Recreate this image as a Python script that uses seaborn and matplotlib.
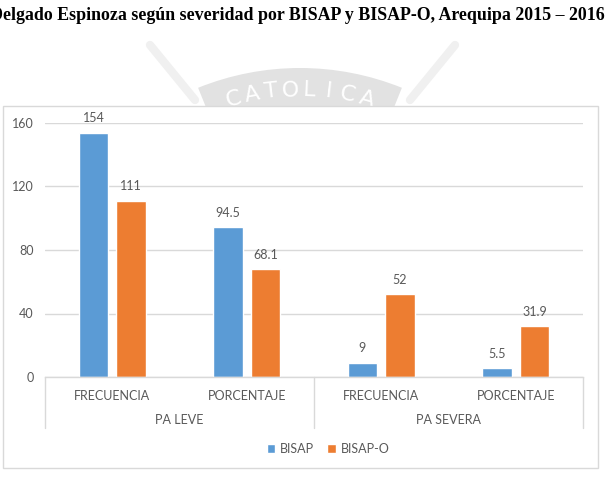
import numpy as np
import pandas as pd
import matplotlib
matplotlib.use("Agg")
import matplotlib.pyplot as plt
from matplotlib.patches import Rectangle, Wedge
import seaborn as sns

# Data
grupos = ["PA LEVE", "PA LEVE", "PA SEVERA", "PA SEVERA"]
medidas = ["FRECUENCIA", "PORCENTAJE", "FRECUENCIA", "PORCENTAJE"]
bisap = [154, 94.5, 9, 5.5]
bisap_o = [111, 68.1, 52, 31.9]
escalas = ["BISAP", "BISAP-O"]
y_ticks = [0, 40, 80, 120, 160]

titulo = "Delgado Espinoza según severidad por BISAP y BISAP-O, Arequipa 2015 – 2016"

# Long format table for seaborn
claves = [f"{g}|{m}" for g, m in zip(grupos, medidas)]
df = pd.DataFrame({
    "categoria": claves * 2,
    "escala": [escalas[0]] * 4 + [escalas[1]] * 4,
    "valor": bisap + bisap_o,
})

sns.set_style("white")
plt.rcParams["font.family"] = ["Lato", "DejaVu Sans"]

txt = "#595959"
grid = "#D9D9D9"
colores = {"BISAP": "#5B9BD5", "BISAP-O": "#ED7D31"}

fig = plt.figure(figsize=(6.06, 4.98), dpi=100)
W, H = 606, 498
px = fig.dpi_scale_trans  # 1 unit = 100 px here

# faint watermark: grey arc banner with white letters
cx, cy = 300, H - 340
fig.patches.append(Wedge((cx / 100, cy / 100), 2.72, 68, 112, width=0.42,
                         transform=px, facecolor="#e2e2e2",
                         edgecolor="none", zorder=0))
for x0, x1 in [(150, 195), (455, 410)]:
    fig.lines.append(plt.Line2D([x0 / W, x1 / W], [1 - 45 / H, 1 - 100 / H],
                                transform=fig.transFigure, color="#f0f0f0",
                                lw=6, zorder=0))
letras = "CATOLICA"
r = 250
paso = 4.4
for i, ch in enumerate(letras):
    ang = 90 + paso * (len(letras) - 1) / 2 - paso * i
    a = np.radians(ang)
    fig.text((cx + r * np.cos(a)) / W, (cy + r * np.sin(a)) / H, ch,
             fontsize=16, color="white", ha="center", va="center",
             rotation=ang - 90, family=["DejaVu Sans"], zorder=0.5)

# chart frame
fig.patches.append(Rectangle((3 / W, 1 - 468 / H), 595 / W, 362 / H,
                             transform=fig.transFigure, facecolor="white",
                             edgecolor=grid, linewidth=1, zorder=1))

# title (cut off on the left as in the source)
fig.text(297 / W, 1 - 15 / H, titulo, fontsize=12.9, fontweight="bold",
         family=["Liberation Serif"], ha="center", va="center", color="black")

ax = fig.add_axes([45 / W, 1 - 377 / H, 538 / W, 254 / H])
ax.set_facecolor("none")
ax.set_zorder(2)

sns.barplot(data=df, x="categoria", y="valor", hue="escala", order=claves,
            hue_order=escalas, palette=colores, width=0.56, gap=0.21,
            saturation=1, ax=ax, legend=True)

for cont in ax.containers:
    ax.bar_label(cont, fmt="{:g}", padding=6, fontsize=9, color=txt)

ax.set_ylim(0, 160)
ax.set_xlim(-0.5, 3.5)
ax.set_yticks(y_ticks)
ax.set_yticklabels([str(v) for v in y_ticks], fontsize=9, color=txt)
ax.yaxis.grid(True, color=grid, linewidth=1)
ax.set_axisbelow(True)
ax.tick_params(axis="y", length=0, pad=8)
ax.tick_params(axis="x", length=0, pad=9)
ax.set_xticks(range(len(medidas)))
ax.set_xticklabels(medidas, fontsize=9, color=txt)
ax.set_xlabel("")
ax.set_ylabel("")
for s in ["left", "right", "top"]:
    ax.spines[s].set_visible(False)
ax.spines["bottom"].set_color(grid)
ax.spines["bottom"].set_linewidth(1)

# second level of the category axis
trans = ax.get_xaxis_transform()
for xs in [-0.5, 1.5, 3.5]:
    ax.plot([xs, xs], [0, -0.2], transform=trans, color=grid, lw=1, clip_on=False)
for i, g in enumerate(["PA LEVE", "PA SEVERA"]):
    ax.text(2 * i + 0.5, -0.17, g, transform=trans, ha="center", va="center",
            fontsize=9, color=txt)

handles, labels = ax.get_legend_handles_labels()
ax.get_legend().remove()
fig.legend(handles, labels, loc="center", bbox_to_anchor=(328 / W, 1 - 449 / H),
           ncol=2, frameon=False, fontsize=9, handlelength=0.7, handleheight=0.7,
           handletextpad=0.4, columnspacing=1.0, labelcolor=txt)

fig.savefig("out.png", dpi=100)
